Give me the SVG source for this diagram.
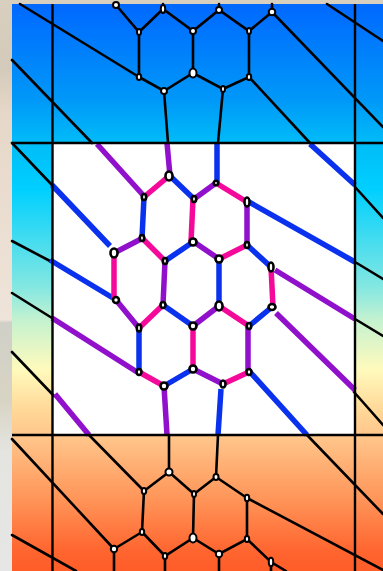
<svg xmlns="http://www.w3.org/2000/svg" width="383" height="571" viewBox="0 0 383 571">
<style>
.k{stroke:#000;stroke-width:2.600;fill:none;stroke-linecap:round}
.b{stroke:#0a32ee;stroke-width:5.500;fill:none}
.p{stroke:#9010cc;stroke-width:5.500;fill:none}
.m{stroke:#f5099b;stroke-width:5.500;fill:none}
.f{stroke:#000;stroke-width:2.400;fill:none}
#nodes ellipse{fill:#fff;stroke:#000;stroke-width:2}
#nodes-inner ellipse{fill:#fff;stroke:#000;stroke-width:2.600}
</style>
<defs>
<linearGradient id="sky" x1="0" y1="0" x2="0" y2="1">
<stop offset="0" stop-color="#0068ff"/>
<stop offset="0.169" stop-color="#0098f8"/>
<stop offset="0.245" stop-color="#00bcf8"/>
<stop offset="0.328" stop-color="#00d0ff"/>
<stop offset="0.504" stop-color="#88e8e0"/>
<stop offset="0.557" stop-color="#c4f2d0"/>
<stop offset="0.645" stop-color="#fffabc"/>
<stop offset="0.716" stop-color="#ffd898"/>
<stop offset="0.769" stop-color="#ffc388"/>
<stop offset="0.875" stop-color="#ff9458"/>
<stop offset="0.963" stop-color="#ff6630"/>
<stop offset="1" stop-color="#ff5c28"/>
</linearGradient>
<linearGradient id="photo" x1="0" y1="0" x2="0" y2="1">
<stop offset="0" stop-color="#d8cfbe"/>
<stop offset="0.12" stop-color="#d4cabb"/>
<stop offset="0.2" stop-color="#e6d8c8"/>
<stop offset="0.56" stop-color="#efe4da"/>
<stop offset="0.565" stop-color="#d0d0c8"/>
<stop offset="0.7" stop-color="#d8d4c4"/>
<stop offset="0.79" stop-color="#e4e4e0"/>
<stop offset="1" stop-color="#e6e6e6"/>
</linearGradient>
</defs>
<rect id="photo-edge" width="383" height="571" fill="url(#photo)"/>
<rect id="band" x="12" y="4" width="371" height="567" fill="url(#sky)"/>
<rect id="white-square" x="52.500" y="143" width="302.500" height="292" fill="#fff"/>
<g id="connectors">
<g class="k">
<path d="M20 4L139 77M327 4L383 41M272 12L383 127M249 77L310 143M12 60L92 143M12 143L52 185"/>
<path d="M116 5L139 32L163 9L193 31L219 10L249 31L272 12M163 9V4M219 10V4M272 12V4M139 32V77M193 31V73M249 31V77M139 77L164 91L193 73L223 89L249 77M164 91L168 143M223 89L218 143"/>
<path d="M12 241L50 261M355 262L383 279M355 187L383 218M12 293L52 318M355 319L383 336M12 352L54 396M354 392L383 425"/>
<path d="M89 435L144 491M169 435L169 472M218 435L216 477M169 472L144 491M169 472L194 494M216 477L194 494M216 477L247 498M144 491L142 532M194 494L193 538M247 498V539M142 532L114 549M142 532L165 556L193 538L219 554L247 539L271 562L286 571M114 549V571M165 556V571M219 554V571M271 562V571M247 498L383 570M307 435L383 514M12 439L114 549M12 535L76 571"/>
</g>
<g class="p">
<path d="M97 144L143 195M167 143L170 176M143 238L114 253M194 199L216 183M247 202V245M163 305L165 261M194 242L219 259M275 270L355 319M116 300L139 328M219 306L193 326M276 313L355 390M52 318L137 372M248 326V372M167 435L164 386M193 369L223 384M55 394L89 435"/>
</g>
<g class="b">
<path d="M52 185L110 246M50 260L113 298M170 176L194 199M217 143V183M144 197L142 238M165 261L193 242M247 245L271 267M219 259V306M163 305L193 326M249 326L272 307M139 328V372M164 386L193 369M221 389L218 435M250 372L307 435M310 144L355 185M249 202L355 262"/>
</g>
<g class="m">
<path d="M144 197L169 176M216 183L247 202M193 199L191 242M142 238L165 261M219 259L247 245M114 253V300M271 267L273 307M139 328L163 305M219 306L249 326M193 326V369M223 384L249 372M139 372L164 386"/>
</g>
<g class="f">
<path d="M52.500 4V571M355 4V571M12 143H383M12 435H383"/>
</g>
</g>
<g id="nodes">
<ellipse cx="116" cy="5" rx="3" ry="3"/><ellipse cx="163" cy="9" rx="2.200" ry="4"/><ellipse cx="219" cy="10" rx="3" ry="3"/><ellipse cx="272" cy="12" rx="3.300" ry="3.300"/>
<ellipse cx="139" cy="32" rx="2" ry="3"/><ellipse cx="193" cy="31" rx="3" ry="3"/><ellipse cx="249" cy="31" rx="2" ry="3"/>
<ellipse cx="139" cy="77" rx="2.200" ry="3"/><ellipse cx="193" cy="73" rx="3.500" ry="4.500"/><ellipse cx="249" cy="77" rx="2.200" ry="3"/>
<ellipse cx="164" cy="91" rx="3" ry="3"/><ellipse cx="223" cy="89" rx="2" ry="3"/>
<ellipse cx="169" cy="472" rx="3.500" ry="3.500"/><ellipse cx="216" cy="477" rx="2.500" ry="3"/><ellipse cx="144" cy="491" rx="2.200" ry="3"/><ellipse cx="194" cy="494" rx="2" ry="3"/><ellipse cx="247" cy="498" rx="2.200" ry="3.200"/>
<ellipse cx="142" cy="532" rx="2.200" ry="3"/><ellipse cx="193" cy="538" rx="3.500" ry="4.500"/><ellipse cx="247" cy="539" rx="2.200" ry="3"/><ellipse cx="114" cy="549" rx="3.200" ry="3.200"/><ellipse cx="165" cy="556" rx="2.200" ry="3"/><ellipse cx="219" cy="554" rx="3.200" ry="3.200"/><ellipse cx="271" cy="562" rx="2.200" ry="4.200"/>
</g>
<g id="nodes-inner">
<ellipse cx="169" cy="176" rx="3.500" ry="4.500"/><ellipse cx="216" cy="183" rx="2.200" ry="2.200"/><ellipse cx="144" cy="197" rx="2.200" ry="3"/><ellipse cx="194" cy="199" rx="2.200" ry="3"/><ellipse cx="247" cy="202" rx="2.500" ry="4.500"/>
<ellipse cx="142" cy="238" rx="2.200" ry="3"/><ellipse cx="193" cy="242" rx="3.500" ry="3.500"/><ellipse cx="247" cy="245" rx="2.200" ry="3"/><ellipse cx="114" cy="253" rx="3.500" ry="4.500"/><ellipse cx="165" cy="261" rx="2.200" ry="3"/><ellipse cx="219" cy="259" rx="3.500" ry="3.500"/><ellipse cx="271" cy="267" rx="2.500" ry="4.500"/>
<ellipse cx="116" cy="300" rx="3" ry="3"/><ellipse cx="163" cy="305" rx="2.500" ry="3"/><ellipse cx="219" cy="306" rx="3.500" ry="4.500"/><ellipse cx="272" cy="307" rx="3.500" ry="3"/>
<ellipse cx="139" cy="328" rx="2.200" ry="3.500"/><ellipse cx="193" cy="326" rx="3.500" ry="3.500"/><ellipse cx="249" cy="326" rx="2.200" ry="3"/>
<ellipse cx="139" cy="372" rx="2.500" ry="3"/><ellipse cx="193" cy="369" rx="3.500" ry="3.500"/><ellipse cx="249" cy="372" rx="2.500" ry="3"/><ellipse cx="164" cy="386" rx="3.500" ry="3.500"/><ellipse cx="223" cy="384" rx="2.500" ry="3.500"/>
</g>
</svg>
